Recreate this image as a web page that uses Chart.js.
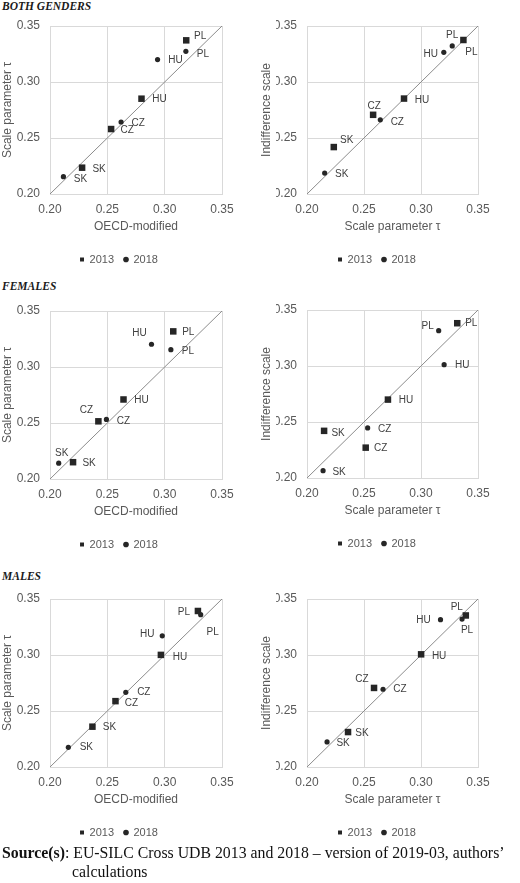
<!DOCTYPE html>
<html>
<head>
<meta charset="utf-8">
<script src="https://cdn.jsdelivr.net/npm/chart.js@4.4.0/dist/chart.umd.min.js"></script>
<style>
  body { margin: 0; background: #fff; }
  #page { position: relative; width: 520px; height: 883px; overflow: hidden; }
  canvas { position: absolute; }
  .head { position: absolute; left: 2px; font: italic bold 11.5px/13px "Liberation Serif", serif; color: #1a1a1a; }
  .src { position: absolute; left: 2px; top: 844px; font: 15.8px/18.5px "Liberation Serif", serif; color: #111;
         white-space: nowrap; padding-left: 70px; text-indent: -70px; }
</style>
</head>
<body>
<div id="page">
  <div class="head" style="top:0">BOTH GENDERS</div>
  <div class="head" style="top:280px">FEMALES</div>
  <div class="head" style="top:570px">MALES</div>
  <canvas id="c1" width="260" height="275" style="left:0;top:0"></canvas>
  <canvas id="c2" width="260" height="275" style="left:260px;top:0"></canvas>
  <canvas id="c3" width="260" height="275" style="left:0;top:285px"></canvas>
  <canvas id="c4" width="260" height="275" style="left:260px;top:284px"></canvas>
  <canvas id="c5" width="260" height="275" style="left:0;top:573px"></canvas>
  <canvas id="c6" width="260" height="275" style="left:260px;top:573px"></canvas>
  <div class="src"><b>Source(s)</b>: EU-SILC Cross UDB 2013 and 2018 – version of 2019-03, authors’<br>calculations</div>
</div>
<script>
// -----------------------
// data, order = countries
// -----------------------
const countries = ["CZ", "HU", "PL", "SK"];
const axisTicks = [0.20, 0.25, 0.30, 0.35];
const axisTickLabels = ["0.20", "0.25", "0.30", "0.35"];
const refLine = [0.20, 0.35]; // 45 degree line, ends at axis limits

// both genders
const bothOecd2013   = [0.2533, 0.2798, 0.3188, 0.2280];
const bothTau2013    = [0.2580, 0.2851, 0.3372, 0.2235];
const bothIndiff2013 = [0.2707, 0.2852, 0.3375, 0.2419];
const bothOecd2018   = [0.2620, 0.2938, 0.3185, 0.2117];
const bothTau2018    = [0.2643, 0.3200, 0.3274, 0.2155];
const bothIndiff2018 = [0.2662, 0.3265, 0.3322, 0.2187];

// females
const femOecd2013   = [0.2422, 0.2641, 0.3075, 0.2201];
const femTau2013    = [0.2515, 0.2710, 0.3318, 0.2150];
const femIndiff2013 = [0.2271, 0.2700, 0.3382, 0.2421];
const femOecd2018   = [0.2492, 0.2885, 0.3054, 0.2076];
const femTau2018    = [0.2532, 0.3203, 0.3155, 0.2141];
const femIndiff2018 = [0.2447, 0.3012, 0.3315, 0.2065];

// males
const maleOecd2013   = [0.2571, 0.2967, 0.3290, 0.2370];
const maleTau2013    = [0.2588, 0.3001, 0.3393, 0.2360];
const maleIndiff2013 = [0.2706, 0.3006, 0.3353, 0.2312];
const maleOecd2018   = [0.2661, 0.2979, 0.3314, 0.2160];
const maleTau2018    = [0.2667, 0.3171, 0.3360, 0.2176];
const maleIndiff2018 = [0.2694, 0.3315, 0.3321, 0.2224];

// -----------------------
// label placement (px from the marker), [2013, 2018]
// -----------------------
const labelOffsets = {
  c1: [[[16, 1], [18, 1], [14, -4], [17, 2]], [[17, 1], [18, 1], [17, 3], [17, 3]]],
  c2: [[[1, -9], [18, 2], [8, 12], [13, -7]], [[17, 2], [-13, 2], [0, -11], [17, 1]]],
  c3: [[[-12, -11], [18, 1], [15, 1], [16, 1]], [[17, 2], [-12, -11], [17, 2], [3, -10]]],
  c4: [[[15, 1], [18, 1], [14, 0], [14, 2]], [[17, 1], [18, 1], [-11, -4], [16, 2]]],
  c5: [[[16, 2], [19, 2], [-14, 1], [17, 1]], [[18, 0], [-15, -2], [12, 18], [18, 0]]],
  c6: [[[-12, -9], [18, 2], [-9, -8], [14, 1]], [[17, 0], [-17, 1], [5, 11], [16, 1]]]
};

// -----------------------
// styles
// -----------------------
const GRID = "#d9d9d9";
const TXT = "#595959";
const MARK = "#262626";
const DIAG = "#8c8c8c";

Chart.defaults.font.family = "'Liberation Sans', Arial, sans-serif";
Chart.defaults.color = TXT;

// country names next to the markers
const pointLabels = {
  id: "pointLabels",
  afterDatasetsDraw(chart, args, opts) {
    const ctx = chart.ctx;
    ctx.save();
    ctx.font = "10px 'Liberation Sans', Arial, sans-serif";
    ctx.fillStyle = "#404040";
    ctx.textAlign = "center";
    ctx.textBaseline = "middle";
    opts.offsets.forEach((offs, di) => {
      chart.getDatasetMeta(di).data.forEach((pt, i) => {
        ctx.fillText(countries[i], pt.x + offs[i][0], pt.y + offs[i][1]);
      });
    });
    ctx.restore();
  }
};

const panels = [
  { id: "c1", xs: [bothOecd2013, bothOecd2018], ys: [bothTau2013, bothTau2018], xTitle: "OECD-modified", yTitle: "Scale parameter τ", left: true },
  { id: "c2", xs: [bothTau2013, bothTau2018], ys: [bothIndiff2013, bothIndiff2018], xTitle: "Scale parameter τ", yTitle: "Indifference scale", left: false },
  { id: "c3", xs: [femOecd2013, femOecd2018], ys: [femTau2013, femTau2018], xTitle: "OECD-modified", yTitle: "Scale parameter τ", left: true },
  { id: "c4", xs: [femTau2013, femTau2018], ys: [femIndiff2013, femIndiff2018], xTitle: "Scale parameter τ", yTitle: "Indifference scale", left: false },
  { id: "c5", xs: [maleOecd2013, maleOecd2018], ys: [maleTau2013, maleTau2018], xTitle: "OECD-modified", yTitle: "Scale parameter τ", left: true },
  { id: "c6", xs: [maleTau2013, maleTau2018], ys: [maleIndiff2013, maleIndiff2018], xTitle: "Scale parameter τ", yTitle: "Indifference scale", left: false }
];

function toPoints(xs, ys) {
  return xs.map((x, i) => ({ x: x, y: ys[i] }));
}

function setTicks(scale) {
  scale.ticks = axisTicks.map(v => ({ value: v }));
}

function makeChart(p) {
  const yWidth = p.left ? 34 : 31;
  const yTitlePad = p.left ? -15.2 : -16.2;
  const padRight = p.left ? 38 : 42;

  new Chart(document.getElementById(p.id), {
    type: "scatter",
    data: {
      datasets: [
        { label: "2013", data: toPoints(p.xs[0], p.ys[0]), pointStyle: "rect", pointRadius: 4.6,
          backgroundColor: MARK, borderColor: MARK, borderWidth: 0, clip: false },
        { label: "2018", data: toPoints(p.xs[1], p.ys[1]), pointStyle: "circle", pointRadius: 2.6,
          backgroundColor: MARK, borderColor: MARK, borderWidth: 0, clip: false },
        { type: "line", label: "", data: refLine.map(v => ({ x: v, y: v })),
          borderColor: DIAG, borderWidth: 1, pointRadius: 0, fill: false }
      ]
    },
    options: {
      responsive: false,
      animation: false,
      devicePixelRatio: 1,
      layout: { padding: { left: 16, right: padRight, top: 26, bottom: 0 } },
      scales: {
        x: {
          type: "linear", min: 0.2, max: 0.35,
          afterBuildTicks: setTicks,
          afterFit: s => { s.height = 50; },
          grid: { color: GRID, drawTicks: false },
          border: { color: GRID },
          ticks: { padding: 8, color: TXT, font: { size: 12 }, callback: (v, i) => axisTickLabels[i] },
          title: { display: true, text: p.xTitle, color: TXT, font: { size: 12 }, padding: { top: 0, bottom: 10 } }
        },
        y: {
          type: "linear", min: 0.2, max: 0.35,
          afterBuildTicks: setTicks,
          afterFit: s => { s.width = yWidth; },
          grid: { color: GRID, drawTicks: false },
          border: { color: GRID },
          ticks: { padding: 10, color: TXT, font: { size: 12 }, callback: (v, i) => axisTickLabels[i] },
          title: { display: true, text: p.yTitle, color: TXT, font: { size: 12 }, padding: { top: yTitlePad, bottom: 0 } }
        }
      },
      plugins: {
        tooltip: { enabled: false },
        legend: {
          position: "bottom",
          labels: {
            usePointStyle: true, boxWidth: 4, boxHeight: 4, padding: 10,
            color: TXT, font: { size: 11 },
            filter: item => item.datasetIndex < 2
          }
        },
        pointLabels: { offsets: labelOffsets[p.id] }
      }
    },
    plugins: [pointLabels]
  });
}

panels.forEach(makeChart);
</script>
</body>
</html>
